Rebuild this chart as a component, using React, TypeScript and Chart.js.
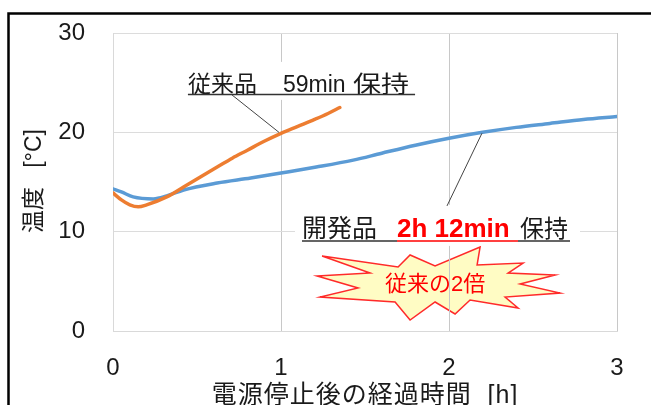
import React, { useEffect, useRef } from "react";
import { Chart, registerables } from "chart.js";

Chart.register(...registerables);

// ---- Data (hours after power-off, temperature °C) ----
const hoursConventional = [0, 0.05, 0.1, 0.15, 0.2, 0.32, 0.42, 0.52, 0.62, 0.71, 0.8, 0.9, 1.0, 1.1, 1.2, 1.28, 1.35];
const tempConventional = [13.9, 13.2, 12.7, 12.5, 12.7, 13.5, 14.5, 15.5, 16.5, 17.4, 18.2, 19.1, 19.9, 20.6, 21.3, 21.9, 22.5];

const hoursDeveloped = [0, 0.05, 0.12, 0.24, 0.32, 0.42, 0.62, 0.82, 1.0, 1.21, 1.43, 1.6, 1.8, 2.0, 2.2, 2.4, 2.6, 2.8, 3.0];
const tempDeveloped = [14.3, 14.0, 13.5, 13.3, 13.6, 14.2, 14.9, 15.4, 15.9, 16.5, 17.2, 17.9, 18.7, 19.4, 20.0, 20.5, 20.9, 21.3, 21.6];

const xTicks = [0, 1, 2, 3];
const yTicks = [0, 10, 20, 30];

const xTitle = "電源停止後の経過時間  [h]";
const yTitle = "温度   [°C]";
const label1Parts = ["従来品", "59min", "保持"];
const label2Parts = ["開発品", "2h 12min", "保持"];
const burstText = "従来の2倍";

// leader targets in data units (hours, °C)
const leader1Target = [0.988, 20.0];
const leader2Target = [2.196, 19.9];

const FONT = "'Liberation Sans', Arial, 'Noto Sans CJK JP', sans-serif";
const JFONT = "'Liberation Sans', Arial, 'Noto Sans CJK JP', sans-serif";

const toPts = (xs: number[], ys: number[]) => xs.map((x, i) => ({ x, y: ys[i] }));

const burstOffsets: [number, number][] = [
  [-116, -28], [-40, -17], [-28, -29], [-3, -18], [42, -37], [39, -19], [85, -21], [70, -11],
  [117, -9], [82, 0], [122, 9], [67, 13], [80, 24], [32, 16], [17, 30], [-3, 18],
  [-28, 36], [-43, 18], [-118, 13], [-80, 4], [-121, -8], [-68, -11],
];

const decorPlugin = {
  id: "decor",
  beforeDraw(chart: any) {
    const ctx = chart.ctx;
    const xs = chart.scales.x;
    const ys = chart.scales.y;
    const cx = xs.getPixelForValue(1.935);
    const cy = ys.getPixelForValue(4.73);
    ctx.save();
    ctx.beginPath();
    burstOffsets.forEach(([dx, dy], i) => {
      if (i === 0) ctx.moveTo(cx + dx, cy + dy);
      else ctx.lineTo(cx + dx, cy + dy);
    });
    ctx.closePath();
    ctx.fillStyle = "#FFFCC4";
    ctx.fill();
    ctx.strokeStyle = "#FF2a2a";
    ctx.lineWidth = 1.5;
    ctx.lineJoin = "miter";
    ctx.stroke();
    ctx.fillStyle = "#FF0000";
    ctx.font = `22px ${JFONT}`;
    ctx.textAlign = "center";
    ctx.textBaseline = "middle";
    ctx.fillText(burstText, cx - 3, cy + 1);
    ctx.restore();
  },
  afterDraw(chart: any) {
    const ctx = chart.ctx;
    const xs = chart.scales.x;
    const ys = chart.scales.y;
    ctx.save();
    ctx.strokeStyle = "#000";
    ctx.lineWidth = 2.5;
    ctx.beginPath();
    ctx.moveTo(8.5, 405);
    ctx.lineTo(8.5, 13.5);
    ctx.lineTo(651, 13.5);
    ctx.stroke();

    ctx.fillStyle = "#1a1a1a";
    ctx.font = `25px ${JFONT}`;
    ctx.textAlign = "center";
    ctx.textBaseline = "middle";
    try { (ctx as any).letterSpacing = "1px"; } catch (e) {}
    ctx.fillText(xTitle, 365, 396);
    try { (ctx as any).letterSpacing = "0px"; } catch (e) {}
    ctx.save();
    ctx.translate(35, 181);
    ctx.rotate(-Math.PI / 2);
    ctx.font = `23px ${JFONT}`;
    ctx.fillText(yTitle, 0, 0);
    ctx.restore();

    const l1x = xs.getPixelForValue(0.446);
    const l1u = ys.getPixelForValue(23.87);
    ctx.fillStyle = "#fff";
    ctx.fillRect(l1x - 8, l1u - 32, 240, 38);
    ctx.fillStyle = "#1a1a1a";
    ctx.textAlign = "left";
    ctx.textBaseline = "alphabetic";
    ctx.font = `23px ${JFONT}`;
    ctx.fillText(label1Parts[0], l1x, l1u - 2);
    ctx.fillText(label1Parts[1], l1x + 95, l1u - 2);
    ctx.save();
    ctx.translate(l1x + 165, l1u - 2);
    ctx.scale(1.22, 1);
    ctx.fillText(label1Parts[2], 0, 0);
    ctx.restore();
    ctx.strokeStyle = "#333";
    ctx.lineWidth = 1.5;
    ctx.beginPath();
    ctx.moveTo(l1x, l1u + 0.5);
    ctx.lineTo(xs.getPixelForValue(1.798), l1u + 0.5);
    ctx.stroke();
    ctx.strokeStyle = "#444";
    ctx.lineWidth = 1;
    ctx.beginPath();
    ctx.moveTo(l1x + 44, l1u + 1);
    ctx.lineTo(xs.getPixelForValue(leader1Target[0]), ys.getPixelForValue(leader1Target[1]));
    ctx.stroke();

    const l2x = xs.getPixelForValue(1.125);
    const l2u = ys.getPixelForValue(9.07);
    ctx.fillStyle = "#fff";
    ctx.fillRect(l2x - 7, l2u - 36, 285, 41);
    ctx.textBaseline = "alphabetic";
    ctx.fillStyle = "#1a1a1a";
    ctx.font = `25px ${JFONT}`;
    ctx.fillText(label2Parts[0], l2x, l2u - 4);
    ctx.fillStyle = "#FF0000";
    ctx.font = `bold 26px ${FONT}`;
    ctx.fillText(label2Parts[1], l2x + 95, l2u - 4);
    ctx.fillStyle = "#1a1a1a";
    ctx.font = `24px ${JFONT}`;
    ctx.fillText(label2Parts[2], l2x + 218, l2u - 4);
    ctx.lineWidth = 1.5;
    ctx.strokeStyle = "#333";
    ctx.beginPath();
    ctx.moveTo(l2x, l2u);
    ctx.lineTo(l2x + 95, l2u);
    ctx.moveTo(l2x + 216, l2u);
    ctx.lineTo(l2x + 268, l2u);
    ctx.stroke();
    ctx.strokeStyle = "#FF0000";
    ctx.beginPath();
    ctx.moveTo(l2x + 95, l2u);
    ctx.lineTo(l2x + 216, l2u);
    ctx.stroke();
    ctx.strokeStyle = "#444";
    ctx.lineWidth = 1;
    ctx.beginPath();
    ctx.moveTo(l2x + 145, l2u - 35);
    ctx.lineTo(xs.getPixelForValue(leader2Target[0]), ys.getPixelForValue(leader2Target[1]));
    ctx.stroke();
    ctx.restore();
  },
};

export default function App() {
  const ref = useRef<HTMLCanvasElement | null>(null);
  useEffect(() => {
    if (!ref.current) return;
    const chart = new Chart(ref.current, {
      type: "line",
      data: {
        datasets: [
          {
            label: "従来品",
            data: toPts(hoursConventional, tempConventional),
            borderColor: "#ED7D31",
            backgroundColor: "#ED7D31",
            borderWidth: 3.5,
            pointRadius: 0,
            cubicInterpolationMode: "monotone",
            borderCapStyle: "round",
          },
          {
            label: "開発品",
            data: toPts(hoursDeveloped, tempDeveloped),
            borderColor: "#5B9BD5",
            backgroundColor: "#5B9BD5",
            borderWidth: 3.5,
            pointRadius: 0,
            cubicInterpolationMode: "monotone",
            borderCapStyle: "round",
          },
        ],
      },
      options: {
        animation: false,
        responsive: false,
        devicePixelRatio: 1,
        layout: { padding: { top: 33, right: 34, left: 0, bottom: 0 } },
        plugins: { legend: { display: false }, tooltip: { enabled: false } },
        scales: {
          x: {
            type: "linear",
            min: 0,
            max: 3,
            afterBuildTicks: (s: any) => { s.ticks = xTicks.map((v) => ({ value: v })); },
            afterFit: (s: any) => { s.height = 74; s.paddingLeft = 0; s.paddingRight = 0; },
            ticks: { font: { size: 24, family: FONT }, color: "#1a1a1a", padding: 23 },
            grid: { color: "#c8c8c8", drawTicks: false, lineWidth: 1 },
            border: { color: "#d9d9d9" },
          },
          y: {
            min: 0,
            max: 30,
            afterBuildTicks: (s: any) => { s.ticks = yTicks.map((v) => ({ value: v })); },
            afterFit: (s: any) => { s.width = 113; s.paddingTop = 0; s.paddingBottom = 0; },
            ticks: { font: { size: 24, family: FONT }, color: "#1a1a1a", padding: 28 },
            grid: { color: "#dcdcdc", drawTicks: false, lineWidth: 1 },
            border: { color: "#d9d9d9" },
          },
        },
      },
      plugins: [decorPlugin],
    } as any);
    return () => chart.destroy();
  }, []);
  return (
    <div style={{ position: "absolute", left: 0, top: 0, width: 651, height: 405, background: "#fff" }}>
      <canvas ref={ref} width={651} height={405} style={{ width: 651, height: 405, display: "block" }} />
    </div>
  );
}
